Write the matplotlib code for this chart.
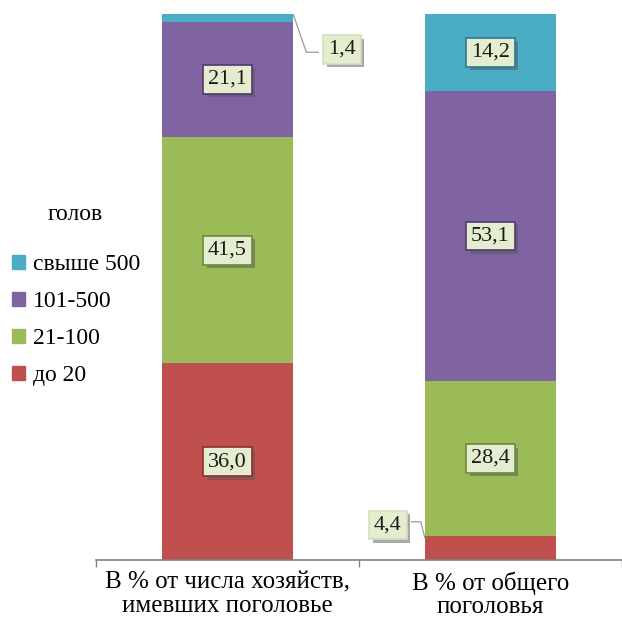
import matplotlib.pyplot as plt
import matplotlib.patheffects as pe
from matplotlib.patches import Patch

plt.rcParams['font.family'] = ['Liberation Serif', 'DejaVu Serif']

# данные: структура хозяйств по размеру поголовья
categories = ['В % от числа хозяйств,\nимевших поголовье', 'В % от общего\nпоголовья']
groups = ['до 20', '21-100', '101-500', 'свыше 500']
values = {
    'до 20': [36.0, 4.4],
    '21-100': [41.5, 28.4],
    '101-500': [21.1, 53.1],
    'свыше 500': [1.4, 14.2],
}
colors = {'до 20': '#c0504d', '21-100': '#9bbb59', '101-500': '#8064a2', 'свыше 500': '#4bacc6'}
edges = {'до 20': '#8c2f2c', '21-100': '#6f8a38', '101-500': '#4f3a70', 'свыше 500': '#2f7a8f'}

fig = plt.figure(figsize=(6.22, 6.25), dpi=100)
ax = fig.add_axes([96 / 622, 65 / 625, 526 / 622, 546 / 625])

x = range(len(categories))
bottom = [0.0] * len(categories)
for g in groups:
    ax.bar(x, values[g], 0.5, bottom=bottom, color=colors[g], label=g)
    bottom = [b + v for b, v in zip(bottom, values[g])]

shadow = [pe.withSimplePatchShadow(offset=(2.5, -2.5), shadow_rgbFace='#555555', alpha=0.5)]


def fmt(v):
    return f'{v:.1f}'.replace('.', ',')


def label(xx, yy, txt, ec):
    t = ax.text(xx, yy, txt, ha='center', va='center', fontsize=16, color='#1a1a1a',
                bbox=dict(boxstyle='square,pad=0.22', fc='#e4edcf', ec=ec, lw=1.2), zorder=5)
    t.get_bbox_patch().set_path_effects(shadow)
    return t


# подписи внутри столбцов
base = [0.0] * len(categories)
for g in groups:
    for i, v in enumerate(values[g]):
        if v >= 10:
            label(i, base[i] + v / 2, fmt(v), edges[g])
    base = [b + v for b, v in zip(base, values[g])]

# малые значения с выносками
v14 = values['свыше 500'][0]
top0 = sum(values[g][0] for g in groups)
label(0.435, top0 - 6.5, fmt(v14), '#d5dfc0')
ax.plot([0.25, 0.30, 0.345], [top0 - 0.1, top0 - 7.0, top0 - 7.0],
        color='#9a9a9a', lw=0.9, zorder=4)

v44 = values['до 20'][1]
label(0.61, v44 + 2.0, fmt(v44), '#d5dfc0')
ax.plot([0.70, 0.735, 0.75], [v44 + 2.6, v44 + 2.6, v44 - 0.3],
        color='#9a9a9a', lw=0.9, zorder=4)

ax.set_xlim(-0.5, 1.5)
ax.set_ylim(0, 100)
ax.set_xticks([-0.5, 0.5, 1.5])
ax.set_xticklabels(['', '', ''])
ax.set_xticks(list(x), minor=True)
ax.set_xticklabels(categories, minor=True, fontsize=18, linespacing=1.1)
ax.tick_params(axis='x', which='minor', length=0, pad=8)
ax.tick_params(axis='x', which='major', length=5, color='#808080', width=1)
ax.set_yticks([])
for s in ['left', 'right', 'top']:
    ax.spines[s].set_visible(False)
ax.spines['bottom'].set_color('#808080')
ax.spines['bottom'].set_linewidth(1.2)

fig.text(75 / 622, 1 - 215 / 625, 'голов', ha='center', va='center', fontsize=17)
handles = [Patch(color=colors[g]) for g in reversed(groups)]
fig.legend(handles, list(reversed(groups)), loc='upper left',
           bbox_to_anchor=(12 / 622, 1 - 254 / 625), frameon=False, fontsize=17,
           handlelength=0.55, handleheight=0.55, handletextpad=0.35,
           labelspacing=0.68, borderaxespad=0, borderpad=0)

fig.savefig('out.png', dpi=100)
